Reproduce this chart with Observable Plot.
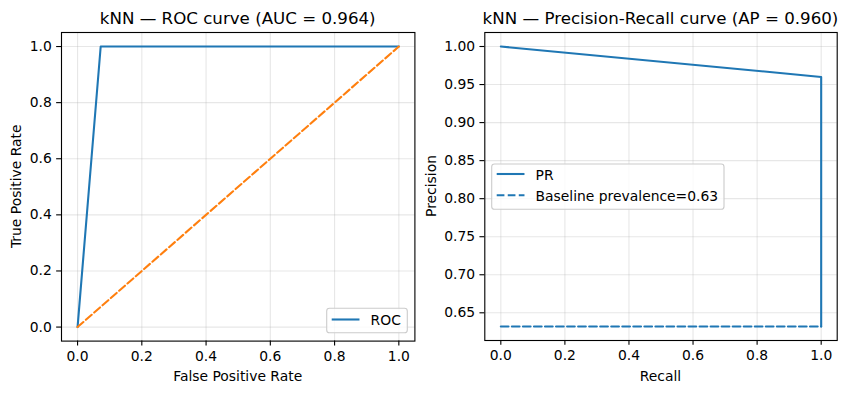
<!DOCTYPE html>
<html>
<head>
<meta charset="utf-8">
<script src="https://cdn.jsdelivr.net/npm/d3@7"></script>
<script src="https://cdn.jsdelivr.net/npm/@observablehq/plot@0.6"></script>
<style>
  body { margin: 0; background: #fff; }
  #wrap { position: relative; width: 847px; height: 393px; overflow: hidden; }
  #wrap svg { position: absolute; top: 0; overflow: visible; }
</style>
</head>
<body>
<div id="wrap"></div>
<script>
// ---- data ----
const rocFpr = [0, 0.072, 1];
const rocTpr = [0, 1, 1];
const chanceX = [0, 1];
const chanceY = [0, 1];
const prRecall = [0, 1, 1];
const prPrecision = [1.0, 0.96, 0.632];
const baselineX = [0, 1];
const baselinePrevalence = 0.632;
const rocTicks = [0, 0.2, 0.4, 0.6, 0.8, 1.0];
const prXTicks = [0, 0.2, 0.4, 0.6, 0.8, 1.0];
const prYTicks = [0.65, 0.70, 0.75, 0.80, 0.85, 0.90, 0.95, 1.00];

const BLUE = "#1f77b4", ORANGE = "#ff7f0e";
const PT = 100 / 72;
const FONT = "DejaVu Sans";
const FS = 10 * PT;
const DASH = `${3.7*1.5*PT},${1.6*1.5*PT}`;

const roc = rocFpr.map((x, i) => ({x, y: rocTpr[i]}));
const chance = chanceX.map((x, i) => ({x, y: chanceY[i]}));
const pr = prRecall.map((x, i) => ({x, y: prPrecision[i]}));
const base = baselineX.map(x => ({x, y: baselinePrevalence}));

function pad(d) { const [a, b] = d3.extent(d); const m = (b - a) * 0.05; return [a - m, b + m]; }

const common = (xt, yt, fmtX, fmtY) => [
  Plot.gridX(xt, {stroke: "#b0b0b0", strokeOpacity: 0.3, strokeWidth: 0.8 * PT}),
  Plot.gridY(yt, {stroke: "#b0b0b0", strokeOpacity: 0.3, strokeWidth: 0.8 * PT}),
  Plot.axisX(xt, {tickSize: 3.5 * PT, tickPadding: 3.5 * PT, tickFormat: d3.format(fmtX), label: null, strokeWidth: 0.8 * PT}),
  Plot.axisY(yt, {tickSize: 3.5 * PT, tickPadding: 3.5 * PT, tickFormat: d3.format(fmtY), label: null, strokeWidth: 0.8 * PT})
];

const wrap = document.getElementById("wrap");

// ---- left: ROC ----
const left = Plot.plot({
  width: 424, height: 393,
  marginLeft: 61, marginRight: 9.6, marginTop: 32, marginBottom: 52.4,
  style: {fontFamily: FONT, fontSize: FS + "px", color: "black", background: "transparent"},
  x: {domain: pad(rocFpr)},
  y: {domain: pad(rocTpr)},
  marks: [
    ...common(rocTicks, rocTicks, ".1f", ".1f"),
    Plot.line(roc, {x: "x", y: "y", stroke: BLUE, strokeWidth: 1.5 * PT}),
    Plot.line(chance, {x: "x", y: "y", stroke: ORANGE, strokeWidth: 1.5 * PT, strokeDasharray: DASH}),
    Plot.frame({stroke: "black", strokeWidth: 0.8 * PT})
  ]
});
left.style.left = "0px";
wrap.appendChild(left);

// ---- right: PR ----
const right = Plot.plot({
  width: 423, height: 393,
  marginLeft: 60.3, marginRight: 10.3, marginTop: 32, marginBottom: 53,
  style: {fontFamily: FONT, fontSize: FS + "px", color: "black", background: "transparent"},
  x: {domain: pad(prRecall)},
  y: {domain: pad(prPrecision)},
  marks: [
    ...common(prXTicks, prYTicks, ".1f", ".2f"),
    Plot.line(pr, {x: "x", y: "y", stroke: BLUE, strokeWidth: 1.5 * PT}),
    Plot.line(base, {x: "x", y: "y", stroke: BLUE, strokeWidth: 1.5 * PT, strokeDasharray: DASH}),
    Plot.frame({stroke: "black", strokeWidth: 0.8 * PT})
  ]
});
right.style.left = "424px";
wrap.appendChild(right);

// ---- titles, labels, legends ----
function decorate(svg, o) {
  const s = d3.select(svg);
  s.append("text").attr("x", o.cx).attr("y", 24).attr("text-anchor", "middle")
    .attr("font-size", 12 * PT).attr("fill", "black").text(o.title);
  s.append("text").attr("x", o.cx).attr("y", 381).attr("text-anchor", "middle")
    .attr("font-size", FS).attr("fill", "black").text(o.xlabel);
  s.append("text").attr("transform", `translate(${o.ylx},${o.cy}) rotate(-90)`).attr("text-anchor", "middle")
    .attr("font-size", FS).attr("fill", "black").text(o.ylabel);
  const g = s.append("g");
  const L = o.legend;
  g.append("rect").attr("x", L.x).attr("y", L.y).attr("width", L.w).attr("height", L.h)
    .attr("rx", 2.8).attr("fill", "white").attr("fill-opacity", 0.8).attr("stroke", "#cccccc").attr("stroke-width", 0.8 * PT);
  L.items.forEach((it, i) => {
    const yy = L.y0 + i * L.dy;
    g.append("line").attr("x1", L.x + 5).attr("x2", L.x + 5 + 2 * FS).attr("y1", yy).attr("y2", yy)
      .attr("stroke", it.color).attr("stroke-width", 1.5 * PT)
      .attr("stroke-dasharray", it.dash ? DASH : null);
    g.append("text").attr("x", L.x + 5 + 2 * FS + 0.8 * FS).attr("y", yy + 5.5)
      .attr("text-anchor", "start")
      .attr("font-size", FS).attr("fill", "black").text(it.label);
  });
}

decorate(left, {
  cx: (61 + 414.4) / 2, cy: (32 + 340.6) / 2, ylx: 20.5,
  title: "kNN — ROC curve (AUC = 0.964)", xlabel: "False Positive Rate", ylabel: "True Positive Rate",
  legend: {x: 326.7, y: 308.3, w: 80.6, h: 24.4, y0: 319.5, dy: 21.3,
    items: [{label: "ROC", color: BLUE}]}
});
decorate(right, {
  cx: (60.3 + 412.7) / 2, cy: (32 + 340) / 2, ylx: 11.5,
  title: "kNN — Precision-Recall curve (AP = 0.960)", xlabel: "Recall", ylabel: "Precision",
  legend: {x: 67.7, y: 164, w: 232.3, h: 45.3, y0: 174, dy: 21.3,
    items: [{label: "PR", color: BLUE}, {label: "Baseline prevalence=0.63", color: BLUE, dash: true}]}
});
</script>
</body>
</html>
